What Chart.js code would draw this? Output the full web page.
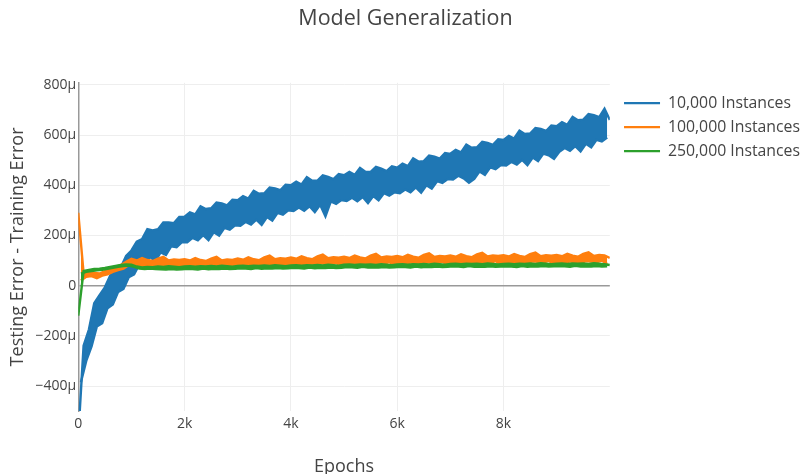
<!DOCTYPE html>
<html>
<head>
<meta charset="utf-8">
<script src="https://cdn.jsdelivr.net/npm/chart.js@4.4.1/dist/chart.umd.min.js"></script>
<style>
  body { margin: 0; background: #fff; }
  #wrap { width: 804px; height: 474px; }
</style>
</head>
<body>
<div id="wrap"><canvas id="myChart"></canvas></div>
<script>
// one sample every 50 epochs, 0 .. 10000
var epochs = Array.from({length: 201}, (_, i) => i * 50)

// values in micro units
// the noise band is read as alternating top / bottom edge (even index = top)
var inst10k = [
  -600, -385, -240, -300, -175, -242, -70, -163, -38, -150,
  -7, -90, 40, -75, 65, -25, 72, -13, 118, 33,
  140, 45, 175, 85, 185, 88, 225, 114, 220, 98,
  225, 132, 252, 122, 252, 157, 249, 153, 274, 173,
  275, 173, 292, 190, 284, 180, 316, 201, 305, 181,
  308, 213, 331, 199, 327, 230, 320, 223, 342, 240,
  340, 238, 356, 254, 347, 243, 378, 263, 366, 242,
  368, 273, 391, 259, 387, 290, 380, 283, 402, 300,
  400, 297, 414, 311, 403, 298, 432, 316, 418, 293,
  418, 322, 439, 276, 433, 335, 424, 326, 444, 341,
  440, 337, 453, 350, 441, 336, 469, 353, 454, 329,
  453, 357, 473, 340, 466, 368, 456, 358, 475, 372,
  470, 368, 486, 383, 476, 372, 507, 391, 494, 370,
  496, 400, 518, 386, 514, 416, 506, 409, 528, 425,
  525, 423, 541, 438, 531, 427, 562, 410, 549, 425,
  551, 455, 573, 441, 569, 471, 561, 464, 583, 480,
  580, 478, 596, 493, 586, 482, 617, 501, 604, 480,
  606, 510, 628, 496, 624, 526, 616, 519, 638, 505,
  635, 533, 651, 548, 641, 537, 672, 556, 659, 535,
  661, 565, 683, 551, 679, 581, 671, 574, 705, 590,
  660
]
var inst100k = [
  290, 20, 50, 35, 52, 38, 50, 30, 48, 40,
  58, 45, 70, 55, 75, 62, 82, 68, 95, 82,
  107, 79, 100, 72, 110, 80, 102, 75, 98, 70,
  108, 80, 115, 78, 100, 75, 104, 82, 102, 68,
  105, 78, 100, 72, 110, 80, 102, 75, 98, 70,
  108, 80, 115, 78, 100, 75, 104, 82, 102, 68,
  108, 81, 103, 75, 113, 83, 105, 78, 101, 73,
  113, 85, 120, 83, 105, 80, 109, 87, 107, 73,
  112, 85, 107, 79, 117, 87, 109, 82, 105, 77,
  117, 89, 124, 87, 109, 84, 113, 91, 111, 77,
  115, 88, 110, 82, 120, 90, 112, 85, 108, 80,
  120, 92, 127, 90, 112, 87, 116, 94, 114, 80,
  118, 91, 113, 85, 123, 93, 115, 88, 111, 83,
  122, 94, 129, 92, 114, 89, 118, 96, 116, 82,
  120, 93, 115, 87, 125, 95, 117, 90, 113, 85,
  124, 96, 131, 94, 116, 91, 120, 98, 118, 84,
  121, 94, 116, 88, 126, 96, 118, 91, 114, 86,
  125, 97, 132, 95, 117, 92, 121, 99, 119, 85,
  122, 95, 117, 89, 127, 97, 119, 92, 115, 87,
  126, 98, 133, 96, 118, 93, 122, 100, 120, 86,
  110
]
var inst250k = [
  -120, 48, 58, 55, 62, 58, 66, 61, 67, 63,
  70, 67, 74, 71, 78, 75, 82, 78, 84, 80,
  83, 75, 76, 68, 72, 66, 74, 68, 73, 66,
  76, 65, 74, 64, 77, 66, 75, 64, 73, 65,
  76, 67, 77, 66, 75, 64, 77, 68, 76, 65,
  78, 67, 76, 66, 79, 68, 77, 66, 75, 67,
  78, 69, 79, 68, 77, 66, 79, 70, 78, 67,
  80, 69, 78, 68, 81, 70, 79, 68, 77, 69,
  80, 71, 81, 70, 79, 68, 81, 72, 80, 69,
  82, 71, 80, 70, 83, 72, 81, 70, 79, 71,
  83, 74, 84, 73, 82, 71, 84, 75, 83, 72,
  84, 73, 82, 72, 85, 74, 83, 72, 81, 73,
  84, 75, 85, 74, 83, 72, 85, 76, 84, 73,
  86, 75, 84, 74, 87, 76, 85, 74, 83, 75,
  86, 77, 87, 76, 85, 74, 87, 78, 86, 75,
  87, 76, 85, 75, 88, 77, 86, 75, 84, 76,
  86, 77, 87, 76, 85, 74, 87, 78, 86, 75,
  88, 77, 86, 76, 89, 78, 87, 76, 85, 77,
  87, 78, 88, 77, 86, 75, 88, 79, 87, 76,
  88, 77, 86, 76, 89, 78, 87, 76, 85, 77,
  82
]
var labels = ['10,000 Instances', '100,000 Instances', '250,000 Instances']
var colors = ['#1f77b4', '#ff7f0e', '#2ca02c']
var xTicks = [0, 2000, 4000, 6000, 8000]
var yTicks = [-400, -200, 0, 200, 400, 600, 800]

// split a series into its top edge and bottom edge points
function edge(ys, top) {
  return ys.map((y, i) => ({x: epochs[i], y: y})).filter((p, i) => i % 2 === (top ? 0 : 1))
}

function bandSets(ys, n) {
  var top = {
    label: labels[n],
    data: edge(ys, true),
    borderColor: colors[n],
    backgroundColor: colors[n],
    borderWidth: 2.4,
    order: 3 - n
  }
  var bottom = {
    label: '',
    data: edge(ys, false),
    borderColor: colors[n],
    backgroundColor: colors[n],
    borderWidth: 2.4,
    fill: n * 2,
    order: 3 - n
  }
  return [top, bottom]
}

var fontFam = '"Open Sans", sans-serif'
var ctx = document.getElementById('myChart')

// nudge the legend a little to the right of the plot, like the original
var legendShift = {
  id: 'legendShift',
  afterLayout: chart => {
    chart.legend.left += 6
    chart.legend.right += 6
  }
}

var myChart = new Chart(ctx, {
  type: 'line',
  data: {
    datasets: [].concat(bandSets(inst10k, 0), bandSets(inst100k, 1), bandSets(inst250k, 2))
  },
  plugins: [legendShift],
  options: {
    responsive: true,
    maintainAspectRatio: false,
    animation: false,
    elements: { point: { radius: 0 }, line: { tension: 0 } },
    layout: { padding: { left: 7, right: 0, top: 0, bottom: -4 } },
    plugins: {
      title: {
        display: true,
        text: 'Model Generalization',
        color: '#444',
        font: { family: fontFam, size: 21.5, weight: 'normal' },
        padding: { top: 6, bottom: 51 }
      },
      legend: {
        position: 'right',
        align: 'start',
        title: { display: true, text: ' ', font: { size: 10 }, padding: { top: 0, bottom: 75 } },
        labels: {
          color: '#444',
          font: { family: fontFam, size: 15.8 },
          usePointStyle: true,
          pointStyle: 'line',
          pointStyleWidth: 36,
          padding: 8.2,
          filter: item => item.datasetIndex % 2 === 0,
          sort: (a, b) => a.datasetIndex - b.datasetIndex
        }
      },
      tooltip: { enabled: false }
    },
    scales: {
      x: {
        type: 'linear',
        min: 0,
        max: 10000,
        afterBuildTicks: axis => { axis.ticks = xTicks.map(v => ({value: v})) },
        grid: { color: '#eee', drawTicks: false },
        border: { display: false },
        ticks: {
          color: '#444',
          font: { family: fontFam, size: 14 },
          padding: 5,
          maxRotation: 0,
          callback: v => v === 0 ? '0' : (v / 1000) + 'k'
        },
        title: {
          display: true,
          text: 'Epochs',
          color: '#444',
          font: { family: fontFam, size: 18 },
          padding: { top: 18.5, bottom: 0 }
        }
      },
      y: {
        min: -500,
        max: 808,
        afterBuildTicks: axis => { axis.ticks = yTicks.map(v => ({value: v})) },
        grid: {
          color: c => c.tick && c.tick.value === 0 ? '#999' : '#eee',
          lineWidth: c => c.tick && c.tick.value === 0 ? 1.5 : 1,
          drawTicks: false
        },
        border: { display: true, color: '#999', width: 1.5 },
        ticks: {
          color: '#444',
          font: { family: fontFam, size: 14 },
          padding: 2,
          callback: v => v === 0 ? '0' : (v < 0 ? '\u2212' : '') + Math.abs(v) + '\u03bc'
        },
        title: {
          display: true,
          text: 'Testing Error - Training Error',
          color: '#444',
          font: { family: fontFam, size: 18 },
          padding: { top: 0, bottom: 5 }
        }
      }
    }
  }
})
</script>
</body>
</html>
